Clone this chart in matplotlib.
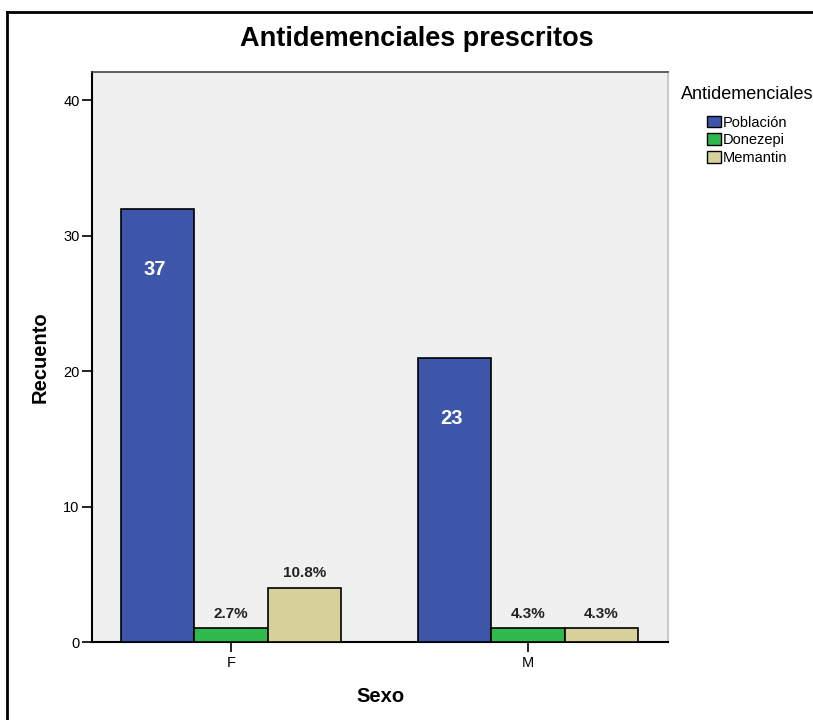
import matplotlib
matplotlib.use("Agg")
import matplotlib.pyplot as plt
from matplotlib.patches import Patch
from matplotlib.lines import Line2D
import numpy as np

plt.rcParams['font.family'] = ['Liberation Sans', 'DejaVu Sans']

# Data
sexo = ['F', 'M']
poblacion = np.array([37, 23])     # total patients per sex
donepezilo = np.array([1, 1])      # patients on Donezepi
memantina = np.array([4, 1])       # patients on Memantin
series_names = ['Población', 'Donezepi', 'Memantin']
colors = ['#3d56a9', '#2fb94c', '#d6d19b']

# Bar heights: untreated population, and each drug count
sin_farmaco = poblacion - donepezilo - memantina
heights = [sin_farmaco, donepezilo, memantina]

fig = plt.figure(figsize=(8.13, 7.2), dpi=100)
ax = fig.add_axes([92 / 813, 78 / 720, 576 / 813, 570 / 720])
ax.set_facecolor('#f0f0f0')

x = np.arange(len(sexo))
width = 0.2475
offsets = [-width, 0, width]
for h, off, c in zip(heights, offsets, colors):
    ax.bar(x + off, h, width=width, color=c, edgecolor='black', linewidth=1.2, zorder=3)

# Population totals inside the blue bars
for xi, h, tot in zip(x, sin_farmaco, poblacion):
    ax.text(xi - width - 0.01, h - 4.5, f'{tot}', ha='center', va='center',
            color='white', fontsize=14.5, fontweight='bold', zorder=4)

# Percentage of each drug over the population
for vals, off in ((donepezilo, 0), (memantina, width)):
    for xi, v, tot in zip(x, vals, poblacion):
        ax.text(xi + off, v + 0.55, f'{100 * v / tot:.1f}%', ha='center', va='bottom',
                color='#222222', fontsize=11, fontweight='bold', zorder=4)

ax.set_xlim(-0.468, 1.471)
ax.set_ylim(0, 42.1)
ax.set_yticks([0, 10, 20, 30, 40])
ax.set_xticks(x)
ax.set_xticklabels(sexo)
ax.tick_params(axis='both', labelsize=10.5, length=7, width=1.2, colors='black')
ax.tick_params(axis='x', pad=3)
ax.tick_params(axis='y', pad=2)

for side in ('left', 'bottom'):
    ax.spines[side].set_color('black')
    ax.spines[side].set_linewidth(1.5)
ax.spines['top'].set_color('#444444')
ax.spines['top'].set_linewidth(1.2)
ax.spines['right'].set_color('#cccccc')
ax.spines['right'].set_linewidth(1.5)

ax.set_ylabel('Recuento', fontsize=14.5, fontweight='bold', labelpad=10)
ax.set_xlabel('Sexo', fontsize=14.5, fontweight='bold', labelpad=12)

fig.text(417 / 813, 1 - 39 / 720, 'Antidemenciales prescritos', ha='center', va='center',
         fontsize=19.5, fontweight='bold')

# Legend
handles = [Patch(facecolor=c, edgecolor='black', linewidth=1.0) for c in colors]
leg = fig.legend(handles, series_names, loc='upper left',
                 bbox_to_anchor=(671 / 813, 1 - 76 / 720), frameon=False,
                 title='Antidemenciales', title_fontsize=13, fontsize=10.5,
                 handlelength=0.95, handleheight=0.85, handletextpad=0.15,
                 labelspacing=0.25, borderpad=0.2)
leg._legend_box.sep = 9

# Outer frame lines
fig.add_artist(Line2D([7 / 813, 1], [1 - 12 / 720, 1 - 12 / 720], color='black', lw=2,
                      transform=fig.transFigure))
fig.add_artist(Line2D([7 / 813, 7 / 813], [0, 1 - 12 / 720], color='black', lw=2,
                      transform=fig.transFigure))

fig.savefig('out.png', dpi=100)
